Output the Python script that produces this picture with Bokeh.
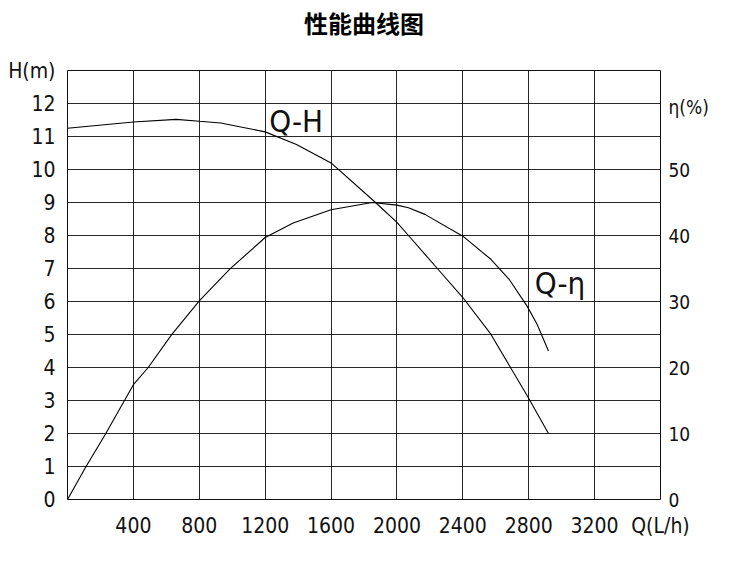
from bokeh.plotting import figure
from bokeh.models import Range1d, LinearAxis, FixedTicker, Label
from bokeh.embed import file_html
from bokeh.resources import INLINE

# ---- data ----
title_text = "性能曲线图"
q_ticks = [400, 800, 1200, 1600, 2000, 2400, 2800, 3200]
h_ticks = [0, 1, 2, 3, 4, 5, 6, 7, 8, 9, 10, 11, 12]
eta_ticks = [0, 10, 20, 30, 40, 50]
x_unit_label = "Q(L/h)"
h_unit_label = "H(m)"
eta_unit_label = "η(%)"

qh_q = [0, 400, 660, 800, 930, 1200, 1390, 1600, 1870, 2000, 2070, 2240, 2400, 2570, 2790, 2920]
qh_h = [11.25, 11.44, 11.52, 11.46, 11.41, 11.14, 10.76, 10.2, 9.0, 8.4, 8.0, 7.03, 6.12, 5.01, 3.15, 2.0]

qe_q = [0, 110, 230, 400, 490, 630, 800, 985, 1200, 1370, 1600, 1850, 2000, 2070, 2170, 2400, 2570, 2680, 2790, 2850, 2920]
qe_eta = [0, 4.9, 9.9, 17.4, 20.0, 24.9, 30.1, 34.9, 39.7, 41.9, 43.9, 45.0, 44.6, 44.2, 43.2, 39.9, 36.4, 33.4, 29.3, 26.6, 22.5]

FONT = "DejaVu Sans Condensed"
INK = "#111111"
Q_MAX, H_MAX, ETA_MAX = 3600, 13, 65

p = figure(frame_width=593, frame_height=429,
           x_range=Range1d(0, Q_MAX), y_range=Range1d(0, H_MAX),
           output_backend="svg", toolbar_location=None,
           min_border_left=67, min_border_right=85,
           min_border_top=70, min_border_bottom=58,
           background_fill_color="white", border_fill_color="white")

p.extra_y_ranges = {"eta": Range1d(0, ETA_MAX)}

p.outline_line_color = INK
p.outline_line_width = 1
p.outline_line_alpha = 1

xa = p.below[0]
ya = p.left[0]

xa.ticker = FixedTicker(ticks=q_ticks + [Q_MAX])
xa.major_label_overrides = {Q_MAX: x_unit_label}
ya.ticker = FixedTicker(ticks=h_ticks + [H_MAX])
ya.major_label_overrides = {H_MAX: h_unit_label}
ETA_LABEL_POS = 59.4
ra = LinearAxis(y_range_name="eta", ticker=FixedTicker(ticks=eta_ticks + [ETA_LABEL_POS]))
ra.major_label_overrides = {ETA_LABEL_POS: eta_unit_label}
p.add_layout(ra, "right")

for ax in (xa, ya, ra):
    ax.axis_line_color = None
    ax.major_tick_line_color = None
    ax.minor_tick_line_color = None
    ax.major_tick_out = 0
    ax.major_tick_in = 0
    ax.major_label_text_font = FONT
    ax.major_label_text_font_size = "21px"
    ax.major_label_text_color = INK
ra.major_label_text_font_size = "19px"
xa.major_label_standoff = 14
ya.major_label_standoff = 12
ra.major_label_standoff = 8

# chart title, carried by an empty axis above the frame
ta = LinearAxis(ticker=FixedTicker(ticks=[]), axis_label=title_text)
ta.axis_line_color = None
ta.major_tick_line_color = None
ta.minor_tick_line_color = None
ta.major_tick_out = 0
ta.major_tick_in = 0
ta.major_label_text_font_size = "0px"
ta.major_label_standoff = 0
ta.axis_label_text_font = "Noto Sans CJK SC"
ta.axis_label_text_font_size = "24px"
ta.axis_label_text_font_style = "bold"
ta.axis_label_text_color = "black"
ta.axis_label_standoff = 31
p.add_layout(ta, "above")

p.xgrid.ticker = FixedTicker(ticks=q_ticks)
p.ygrid.ticker = FixedTicker(ticks=h_ticks)
for g in (p.xgrid[0], p.ygrid[0]):
    g.grid_line_color = INK
    g.grid_line_width = 1
    g.grid_line_alpha = 0.9

p.line(qh_q, qh_h, line_color="black", line_width=1.1)
p.line(qe_q, qe_eta, y_range_name="eta", line_color="black", line_width=1.1)

p.add_layout(Label(x=1388, y=11.46, text="Q-H", text_font=FONT, text_font_size="31px",
                   text_align="center", text_baseline="middle", text_color=INK))
p.add_layout(Label(x=2990, y=6.56, text="Q-η", text_font=FONT, text_font_size="31px",
                   text_align="center", text_baseline="middle", text_color=INK))

open("out.html", "w").write(file_html(p, INLINE))
